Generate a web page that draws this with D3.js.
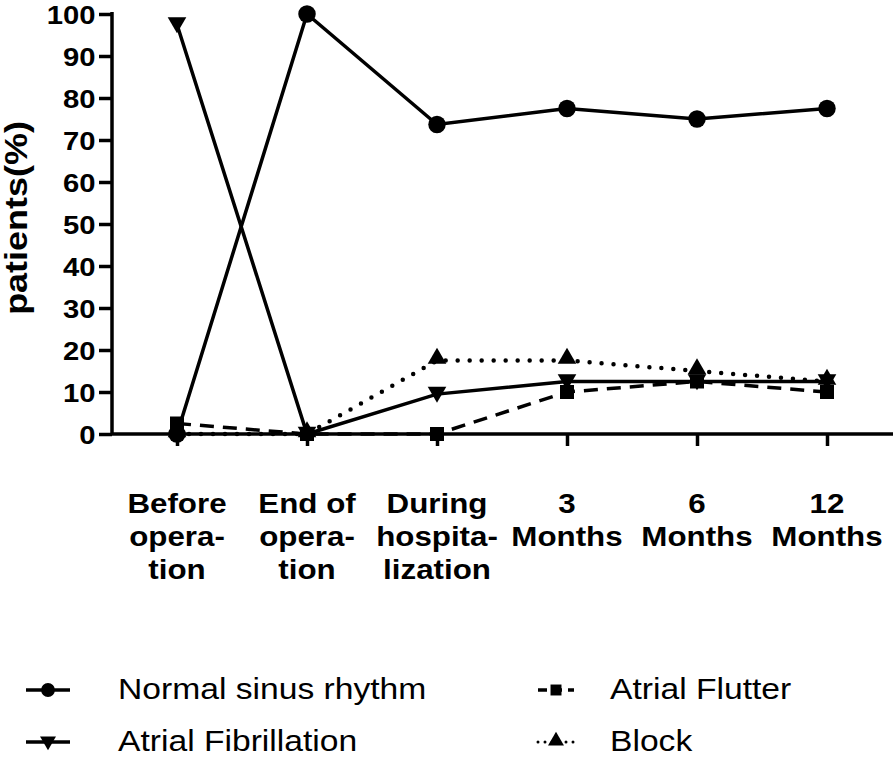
<!DOCTYPE html>
<html><head><meta charset="utf-8">
<script src="https://cdn.jsdelivr.net/npm/d3@7"></script>
<style>body{margin:0;background:#fff}svg{display:block}</style>
</head><body>
<svg id="c" width="896" height="758"></svg>
<script>
const categories = [["Before","opera-","tion"],["End of","opera-","tion"],["During","hospita-","lization"],["3","Months"],["6","Months"],["12","Months"]];
const catKeys = ["Before operation","End of operation","During hospitalization","3 Months","6 Months","12 Months"];
const normalSinus = [0, 100, 73.7, 77.5, 75, 77.5];
const atrialFib = [97.5, 0, 9.5, 12.5, 12.5, 12.5];
const atrialFlutter = [2.5, 0, 0, 10, 12.5, 10];
const block = [0, 0, 17.5, 17.5, 15, 12.5];
const yTicks = [0,10,20,30,40,50,60,70,80,90,100];
const seriesNames = ["Normal sinus rhythm","Atrial Fibrillation","Atrial Flutter","Block"];

const svg = d3.select("#c");
const x = d3.scalePoint().domain(catKeys).range([112, 892]).padding(0.5);
const y = d3.scaleLinear().domain([0,100]).range([434, 14]);
const font = "'Liberation Sans', Arial, sans-serif";
const SX = 1.16; // horizontal stretch of glyphs

const series = [
  {name: seriesNames[3], vals: block, dash: "0,12", cap:"round", sym: d3.symbolTriangle, size: 150, rot:0, w:4.5},
  {name: seriesNames[0], vals: normalSinus, dash: null, cap:"butt", sym: d3.symbolCircle, size: 240, rot:0, w:3.5},
  {name: seriesNames[1], vals: atrialFib, dash: null, cap:"butt", sym: d3.symbolTriangle, size: 150, rot:180, w:3.5},
  {name: seriesNames[2], vals: atrialFlutter, dash: "14,9", cap:"butt", sym: d3.symbolSquare, size: 196, rot:0, w:3.5},
];

// axes
const yAxis = svg.append("g").attr("transform","translate(112,0)")
  .call(d3.axisLeft(y).tickValues(yTicks).tickSize(13).tickPadding(4));
const xAxis = svg.append("g").attr("transform","translate(0,434)")
  .call(d3.axisBottom(x).tickSize(12).tickFormat(""));
[yAxis, xAxis].forEach(g => {
  g.select(".domain").attr("stroke","#000").attr("stroke-width",3.5);
  g.selectAll(".tick line").attr("stroke","#000").attr("stroke-width",3.5);
});
xAxis.select(".domain").attr("d","M112,0H893");
yAxis.select(".domain").attr("d","M0,434V12");
yAxis.selectAll(".tick text").attr("font-family",font).attr("font-weight","bold")
  .attr("font-size",26).attr("fill","#000")
  .attr("x", -17/SX).attr("dy","0.36em").attr("transform",`scale(${SX*0.97},1)`);

// x labels
categories.forEach((lines,i) => {
  lines.forEach((l,j) => {
    svg.append("text").attr("text-anchor","middle").attr("font-family",font)
      .attr("font-weight","bold").attr("font-size",27).attr("fill","#000")
      .attr("transform",`translate(${x(catKeys[i])},${513 + j*33}) scale(${SX},1)`)
      .text(l);
  });
});

// y label
svg.append("text").attr("transform",`translate(27,218) rotate(-90) scale(${SX},1)`).attr("text-anchor","middle")
  .attr("font-family",font).attr("font-weight","bold").attr("font-size",31).attr("fill","#000")
  .text("patients(%)");

// lines + markers
const line = d3.line().x((d,i)=>x(catKeys[i])).y(d=>y(d));
series.forEach(s => {
  svg.append("path").attr("d", line(s.vals)).attr("fill","none").attr("stroke","#000")
    .attr("stroke-width", s.w).attr("stroke-linecap", s.cap)
    .attr("stroke-dasharray", s.dash);
});
series.forEach(s => {
  svg.append("g").selectAll("path").data(s.vals).join("path")
    .attr("d", d3.symbol().type(s.sym).size(s.size))
    .attr("transform",(d,i)=>`translate(${x(catKeys[i])},${y(d) + (s.sym===d3.symbolTriangle?-2:0)}) rotate(${s.rot})`)
    .attr("fill","#000");
});

// legend
const legend = [
  {name: seriesNames[0], x: 26, y: 690, dash:null, cap:"butt", sym:d3.symbolCircle, size:150, rot:0, len:44, w:3.5},
  {name: seriesNames[1], x: 26, y: 742, dash:null, cap:"butt", sym:d3.symbolTriangle, size:110, rot:180, len:44, w:3.5},
  {name: seriesNames[2], x: 538, y: 690, dash:"9,6", cap:"butt", sym:d3.symbolSquare, size:120, rot:0, len:36, w:3.5},
  {name: seriesNames[3], x: 538, y: 742, dash:"0,7", cap:"round", sym:d3.symbolTriangle, size:110, rot:0, len:36, w:3},
];
legend.forEach(l => {
  svg.append("line").attr("x1",l.x).attr("x2",l.x+l.len).attr("y1",l.y).attr("y2",l.y)
    .attr("stroke","#000").attr("stroke-width", l.w).attr("stroke-linecap",l.cap)
    .attr("stroke-dasharray",l.dash);
  svg.append("path").attr("d", d3.symbol().type(l.sym).size(l.size)())
    .attr("transform",`translate(${l.x+l.len/2},${l.y + (l.sym===d3.symbolTriangle?-1:0)}) rotate(${l.rot})`).attr("fill","#000");
  svg.append("text").attr("transform",`translate(${l.x < 300 ? 118 : 610},${l.y + 9}) scale(1.16,1)`)
    .attr("font-family",font).attr("font-size",29).attr("fill","#000").text(l.name);
});
</script>
</body></html>
